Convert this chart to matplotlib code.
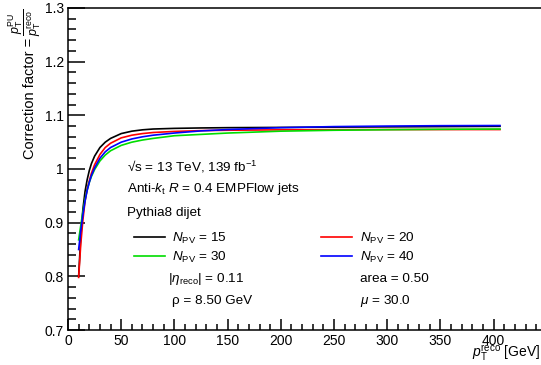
"""Correction factor p_T^PU / p_T^reco vs p_T^reco for several N_PV values."""
import matplotlib
matplotlib.use("Agg")
import matplotlib.pyplot as plt
from matplotlib.ticker import MultipleLocator

plt.rcParams["font.family"] = ["Liberation Sans", "DejaVu Sans"]
plt.rcParams["mathtext.fontset"] = "custom"
plt.rcParams["mathtext.rm"] = "Liberation Sans"
plt.rcParams["mathtext.it"] = "Liberation Sans:italic"
plt.rcParams["mathtext.bf"] = "Liberation Sans:bold"

# --- data --------------------------------------------------------------
pt_reco = [10, 12, 14, 16, 18, 20, 22, 25, 30, 35, 40, 50, 60, 70, 80,
           100, 125, 150, 200, 250, 300, 350, 406]

corr_npv15 = [0.800, 0.875, 0.925, 0.958, 0.980, 0.997, 1.010, 1.024, 1.040,
              1.050, 1.057, 1.066, 1.0705, 1.073, 1.0745, 1.0757, 1.0765,
              1.077, 1.0775, 1.078, 1.0785, 1.079, 1.0795]
corr_npv20 = [0.798, 0.860, 0.905, 0.940, 0.963, 0.978, 0.992, 1.008, 1.027,
              1.040, 1.048, 1.058, 1.063, 1.066, 1.068, 1.070, 1.0715,
              1.0722, 1.073, 1.0733, 1.0735, 1.0735, 1.0735]
corr_npv30 = [0.868, 0.895, 0.920, 0.943, 0.961, 0.975, 0.986, 0.999, 1.015,
              1.026, 1.034, 1.044, 1.050, 1.054, 1.057, 1.062, 1.0645,
              1.067, 1.0705, 1.0722, 1.0732, 1.074, 1.0745]
corr_npv40 = [0.850, 0.885, 0.915, 0.940, 0.960, 0.975, 0.988, 1.002, 1.020,
              1.032, 1.040, 1.050, 1.056, 1.060, 1.063, 1.067, 1.071,
              1.0735, 1.077, 1.079, 1.080, 1.0807, 1.081]

npv_labels = ["15", "20", "30", "40"]
npv_colors = ["black", "red", "#00dd00", "blue"]

x_ticks = [0, 50, 100, 150, 200, 250, 300, 350, 400]
y_ticks = [0.7, 0.8, 0.9, 1.0, 1.1, 1.2, 1.3]
y_ticklabels = ["0.7", "0.8", "0.9", "1", "1.1", "1.2", "1.3"]

W, H = 541, 365
fig = plt.figure(figsize=(W / 100, H / 100), dpi=100)
# axes run past the right edge of the canvas, as in the original
ax = fig.add_axes([68 / W, 35 / H, 532 / W, 322 / H])

lines = []
for ys, lab, col in zip([corr_npv15, corr_npv20, corr_npv30, corr_npv40],
                        npv_labels, npv_colors):
    ln, = ax.plot(pt_reco, ys, color=col, lw=1.2,
                  label=r"$N_{\mathrm{PV}}$ = " + lab)
    lines.append(ln)

ax.set_xlim(0, 500)
ax.set_ylim(0.7, 1.3)
ax.set_xticks(x_ticks)
ax.xaxis.set_minor_locator(MultipleLocator(10))
ax.set_yticks(y_ticks)
ax.set_yticklabels(y_ticklabels)
ax.yaxis.set_minor_locator(MultipleLocator(0.02))
ax.tick_params(which="both", direction="in", top=False, right=False,
               labelsize=10, width=1.1)
ax.tick_params(axis="y", which="major", length=12, pad=3)
ax.tick_params(axis="y", which="minor", length=6)
ax.tick_params(axis="x", which="major", length=8, pad=3)
ax.tick_params(axis="x", which="minor", length=4)
for sp in ax.spines.values():
    sp.set_linewidth(1.1)

# y title: plain part as the axis label, the fraction on top of it
ax.set_ylabel("Correction factor =", fontsize=10.5, ha="center", va="center")
ax.yaxis.set_label_coords(-38 / 532, (330 - 98) / 322)
fig.text(25 / W, 1 - 22 / H,
         r"$\dfrac{p_{\mathrm{T}}^{\mathrm{PU}}}{p_{\mathrm{T}}^{\mathrm{reco}}}$",
         rotation=90, ha="center", va="center", fontsize=9)
fig.text(540 / W, 1 - 353 / H, r"$p_{\mathrm{T}}^{\mathrm{reco}}$ [GeV]",
         ha="right", va="center", fontsize=10)

fs = 9.7
def put(x, y, s, **kw):
    fig.text(x / W, 1 - y / H, s, ha="left", va="center", fontsize=fs, **kw)

put(127, 167, r"√s = 13 TeV, 139 fb$^{-1}$")
put(127, 189, r"Anti-$k_{\mathrm{t}}$ $R$ = 0.4 EMPFlow jets")
put(127, 213, "Pythia8 dijet")
put(168, 279, r"$|\eta_{\mathrm{reco}}|$ = 0.11")
put(172, 301, "ρ = 8.50 GeV")
put(360, 279, "area = 0.50")
put(360, 301, r"$\mu$ = 30.0")

ax.legend([lines[0], lines[2], lines[1], lines[3]],
          [lines[0].get_label(), lines[2].get_label(),
           lines[1].get_label(), lines[3].get_label()],
          ncol=2, frameon=False, fontsize=fs, loc="upper left",
          bbox_to_anchor=(134 / W, 1 - 231 / H), bbox_transform=fig.transFigure,
          borderpad=0, borderaxespad=0, handlelength=2.3, handletextpad=0.55,
          columnspacing=7.0, labelspacing=0.3)

fig.savefig("out.png", dpi=100)
